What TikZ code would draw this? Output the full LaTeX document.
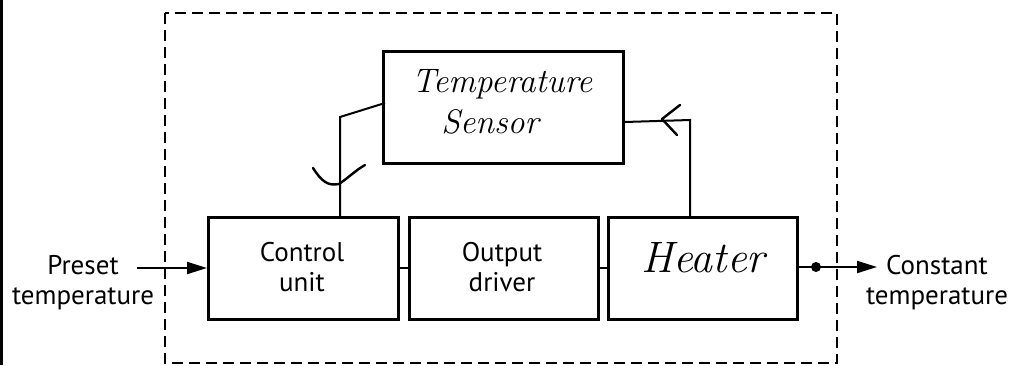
\documentclass[tikz,border=0pt]{standalone}
\usepackage{fontspec}
\setmainfont{PT Sans}
\newfontfamily\handfont{Latin Modern Roman}
\usetikzlibrary{arrows.meta}
\begin{document}
\begin{tikzpicture}[x=1pt,y=-1pt,
  blk/.style={draw, line width=2.6pt, inner sep=0pt, anchor=north west},
  lbl/.style={font=\fontsize{27}{30}\selectfont, align=center, inner sep=0pt},
  hand/.style={font=\fontsize{34}{40}\selectfont\handfont\itshape, inner sep=0pt},
  wire/.style={line width=2pt},
  arr/.style={line width=2pt, -{Triangle[length=20pt,width=12pt]}},
  handtip/.style={line width=2.4pt, line cap=round, line join=round}]
\useasboundingbox (0,0) rectangle (1013,365);
% left border line
\draw[line width=3pt] (1.5,0) -- (1.5,365);
% dashed enclosure
\draw[line width=2pt, dash pattern=on 11pt off 6pt] (165,13) rectangle (837,363);
% blocks
\node[blk, minimum width=190pt, minimum height=102pt] (cu) at (207,216) {};
\node[blk, minimum width=189pt, minimum height=102pt] (od) at (408,216) {};
\node[blk, minimum width=189pt, minimum height=102pt] (ht) at (607,216) {};
\node[blk, minimum width=240pt, minimum height=112pt] (ts) at (382,50) {};
% labels
\node[lbl] (cut) at (302,267) {Control\\unit};
\node[lbl] (odt) at (502,267) {Output\\driver};
\node[hand, font=\fontsize{44}{50}\selectfont\handfont\itshape] (htt) at (703,258) {Heater};
\node[hand] (tst) at (502,84) {Temperature};
\node[hand] (tss) at (490,122) {Sensor};
\node[lbl] (pin) at (83,283) {Preset\\temperature};
\node[lbl] (pout) at (937,283) {Constant\\temperature};
% block links
\draw[wire] (cu.east) -- (od.west);
\draw[wire] (od.east) -- (ht.west);
% input
\coordinate (inS) at (137,268);
\draw[arr] (inS) -- (cu.west |- inS);
% output
\coordinate (dot) at (816,267);
\draw[wire] (ht.east |- dot) -- (dot);
\fill (dot) circle (5pt);
\draw[arr] (dot) -- (877,267);
% feedback: control unit <- sensor
\coordinate (fa) at (340,117);
\draw[wire] (cu.north -| fa) -- (fa) -- (385,103);
\draw[handtip] (313,168) .. controls (322,182) and (328,186) .. (339,184) .. controls (348,178) and (356,170) .. (365,165);
% feedback: heater -> sensor
\coordinate (fb) at (690,120);
\draw[wire] (ht.north -| fb) -- (fb) -- (ts.east |- 0,122);
\draw[handtip] (680,105) -- (662,119) -- (677,135);
\end{tikzpicture}
\end{document}
